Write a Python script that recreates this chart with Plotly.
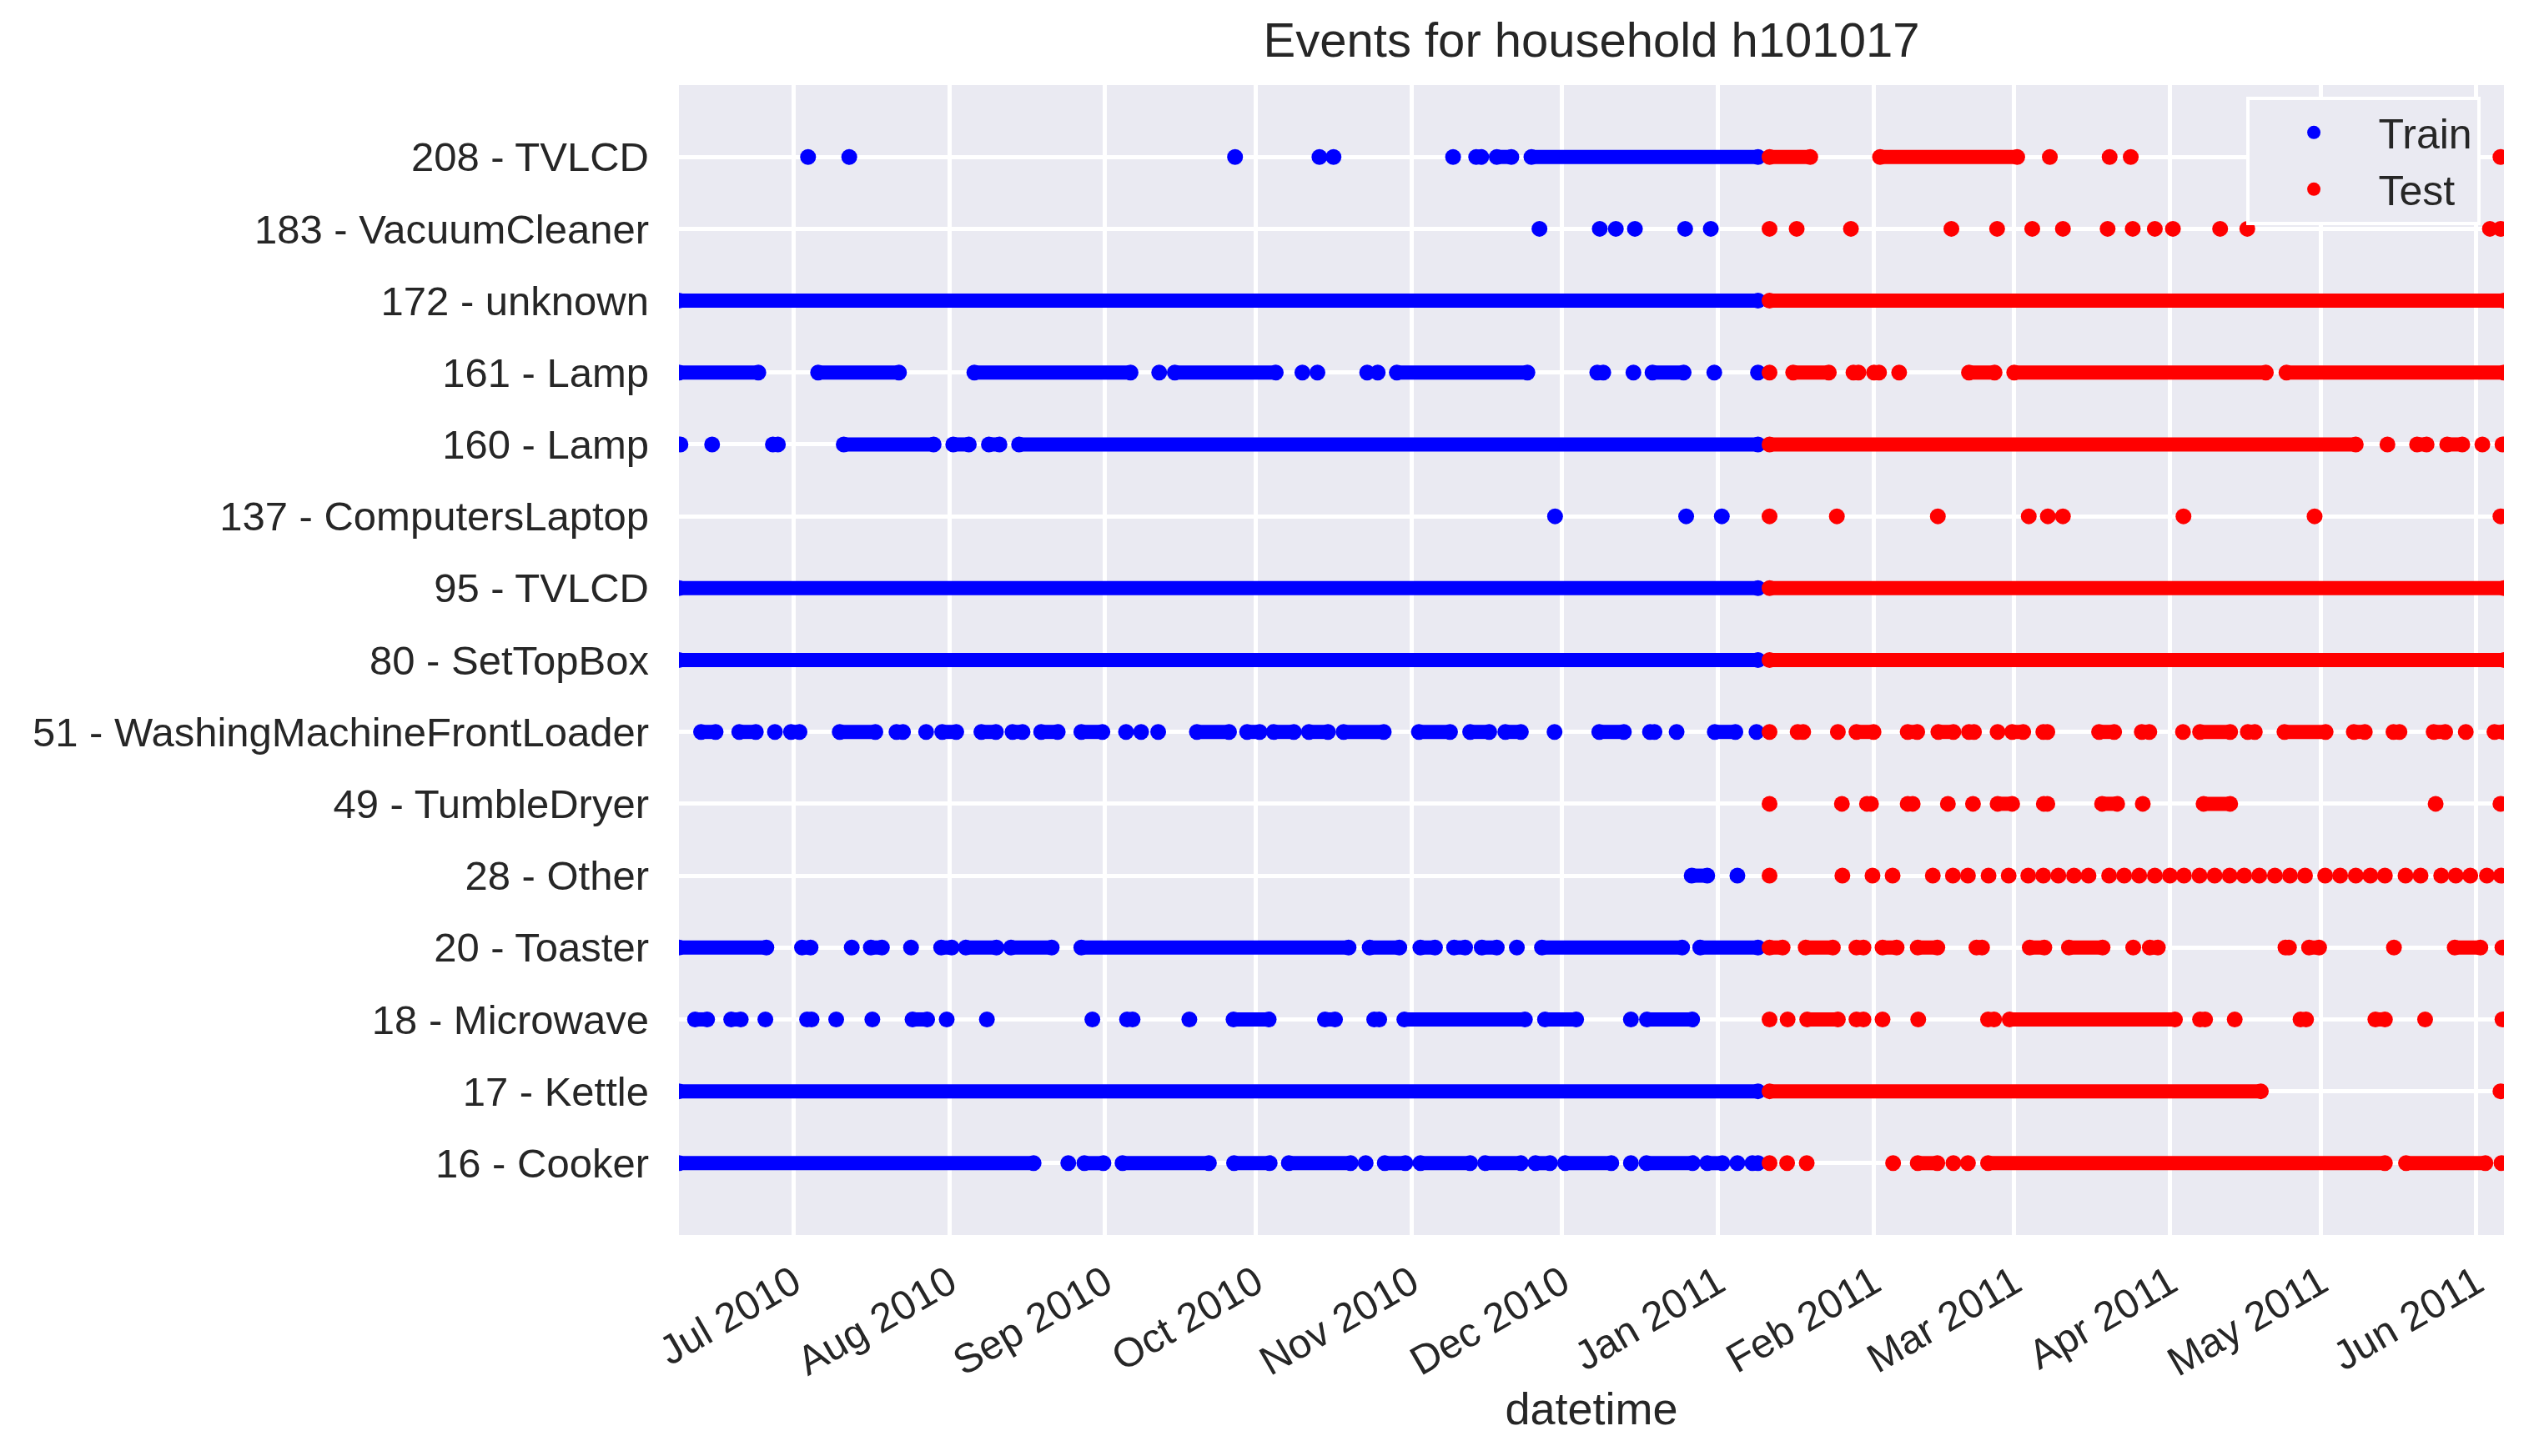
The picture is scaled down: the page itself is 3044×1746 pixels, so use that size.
import pandas as pd
import plotly.graph_objects as go

# event days counted from 2010-07-01; a [start, end] pair is a dense run of events
DAY0 = pd.Timestamp("2010-07-01")
TRAIN_END = 192.0   # last train event
TEST_START = 194.3  # first test event

tvlcd_208 = [2.9, 11.1, 87.9, 104.7, 107.5, 131.3, [135.9, 136.9], [140.0, 142.9],
             [146.9, 202.4], [216.3, 243.6], 250.1, 262.0, 266.2, 339.8]
vacuum_183 = [148.5, 160.5, 163.7, 167.5, 177.5, 182.6, 194.3, 199.7, 210.5, 230.5,
              239.6, 246.6, 252.7, 261.6, 266.6, 271.0, 274.6, 284.0, 289.4, 337.7, 339.8]
unknown_172 = [[-22.8, 340.5]]
lamp_161 = [[-22.8, -7.0], [4.9, 21.0], [36.0, 67.1], 72.8, [75.9, 96.0], 101.3, 104.3,
            114.2, 116.3, [120.1, 146.1], [160.0, 161.2], 167.2, [171.0, 177.2], 183.3,
            192.0, 194.3, [199.0, 206.1], [211.0, 212.0], [215.1, 216.1], 220.1,
            [234.0, 239.1], [243.0, 293.1], [297.2, 340.5]]
lamp_160 = [-22.5, -16.2, [-4.1, -3.1], [10.0, 27.9], [31.8, 34.9], [38.9, 41.0],
            [44.9, 311.0], 317.3, [323.2, 325.1], [329.2, 332.2], 336.2, 340.2]
laptop_137 = [151.6, 177.7, 184.8, 194.3, 207.7, 227.8, 245.9, 249.7, 252.7, 276.7,
              302.8, 339.8]
tvlcd_95 = [[-22.8, 340.5]]
settopbox_80 = [[-22.8, 340.5]]
washer_51 = [[-18.4, -15.5], [-10.8, -7.5], -3.7, [-0.5, 1.2], [9.2, 16.3], [20.5, 21.8],
             26.4, [29.6, 32.4], [37.4, 40.3], [43.6, 45.6], [49.3, 52.6], [57.3, 61.5],
             66.2, 69.2, 72.6, [80.3, 86.7], [90.3, 92.8], [95.6, 99.6], [102.6, 106.4],
             [109.5, 117.5], [124.5, 130.7], [134.7, 138.5], [141.7, 144.8], 151.5,
             [160.4, 165.3], [170.5, 171.4], 175.8, [183.4, 187.5], 191.7, 194.3,
             [199.9, 201.0], 207.9, [211.6, 215.0], [221.8, 223.7], [227.9, 230.9],
             [234.0, 235.0], 239.7, [242.6, 244.8], [248.8, 249.6], [259.9, 262.9],
             [268.4, 269.9], 276.6, [280.0, 286.0], [289.5, 290.9], [296.8, 305.0],
             [310.6, 312.8], [318.5, 319.7], [326.5, 328.8], 332.9, [338.6, 340.5]]
dryer_49 = [194.3, 208.7, [213.7, 214.5], [221.8, 222.8], 229.8, 234.8, [239.7, 242.6],
            [248.9, 249.6], [260.5, 263.5], 268.6, [280.7, 286.0], 326.9, 339.8]
other_28 = [[178.8, 181.9], 187.9, 194.3, 208.8, 214.8, 218.8, 226.8, 230.8, 233.8,
            237.9, 241.9, 245.8, 248.8, 251.8, 254.9, 257.8, 261.9, 264.9, 267.9, 271.0,
            274.0, 276.8, 279.9, 282.9, 285.9, 288.8, 291.8, 294.9, 297.9, 300.9, 304.9,
            307.9, 311.0, 313.9, 316.8, 320.9, 323.9, 328.0, 330.9, 333.8, 337.1, 339.9]
toaster_20 = [[-22.8, -5.4], [1.7, 3.4], 11.6, [15.4, 17.6], 23.4, [29.4, 31.5],
              [34.3, 40.4], [43.3, 51.4], [57.3, 110.5], [114.7, 120.6], [124.8, 127.7],
              [131.5, 133.7], [137.0, 140.0], 144.0, [149.0, 176.9], [180.5, 196.9],
              [201.5, 206.9], [211.6, 213.0], [216.8, 219.6], [223.8, 227.7],
              [235.5, 236.6], [246.1, 249.0], [253.9, 260.6], 266.7, [270.0, 271.6],
              [297.0, 297.7], [301.7, 303.7], 318.6, [330.7, 335.8], 340.2]
microwave_18 = [[-19.6, -17.2], [-12.4, -10.5], -5.6, [2.7, 3.6], 8.5, 15.7, [23.7, 26.6],
                30.5, 38.5, 59.5, [66.4, 67.5], 78.8, [87.6, 94.6], [105.8, 107.8],
                [115.6, 116.6], [121.6, 145.6], [149.6, 155.8], 166.7, [169.9, 178.9],
                194.3, 197.9, [201.8, 207.9], [211.6, 213.0], 216.8, 223.9, [237.8, 239.0],
                [242.1, 275.0], [280.0, 281.0], 286.9, [300.0, 301.1], [314.9, 316.8],
                324.8, 340.2]
kettle_17 = [[-22.8, 292.1], 339.8]
cooker_16 = [[-22.8, 47.8], 54.7, [57.9, 61.7], [65.5, 82.7], [87.7, 94.8], [98.6, 110.9],
             113.9, [117.7, 121.8], [124.8, 134.7], [137.7, 144.8], [147.7, 150.6],
             [153.6, 162.8], 166.7, [169.8, 179.0], [181.9, 184.9], 187.9, [190.9, 192.0],
             194.3, 197.8, 201.7, 218.9, [223.8, 227.7], 230.9, 233.8, [237.8, 316.8],
             [321.0, 336.8], 340.0]

appliances = ["16 - Cooker", "17 - Kettle", "18 - Microwave", "20 - Toaster", "28 - Other",
              "49 - TumbleDryer", "51 - WashingMachineFrontLoader", "80 - SetTopBox",
              "95 - TVLCD", "137 - ComputersLaptop", "160 - Lamp", "161 - Lamp",
              "172 - unknown", "183 - VacuumCleaner", "208 - TVLCD"]
rows = [cooker_16, kettle_17, microwave_18, toaster_20, other_28, dryer_49, washer_51,
        settopbox_80, tvlcd_95, laptop_137, lamp_160, lamp_161, unknown_172, vacuum_183,
        tvlcd_208]


def day(d):
    return (DAY0 + pd.Timedelta(days=d)).isoformat()


def pieces(part):
    xs, ys = [], []
    for name, evs in zip(appliances, rows):
        for ev in evs:
            a, b = ev if isinstance(ev, list) else (ev, ev)
            if part == "train":
                if a > TRAIN_END:
                    continue
                b = min(b, TRAIN_END)
            else:
                if b < TEST_START:
                    continue
                a = max(a, TEST_START)
            pts = [a] if a == b else [a, b]
            xs += [day(p) for p in pts] + [None]
            ys += [name] * len(pts) + [None]
    return xs, ys


fig = go.Figure()
for part, color in [("train", "#0000FF"), ("test", "#FF0000")]:
    xs, ys = pieces(part)
    fig.add_trace(go.Scatter(x=xs, y=ys, mode="lines+markers", showlegend=False,
                             line=dict(color=color, width=17),
                             marker=dict(color=color, size=19, line=dict(width=0))))
for name, color in [("Train", "#0000FF"), ("Test", "#FF0000")]:
    fig.add_trace(go.Scatter(x=[None], y=[None], mode="markers", name=name,
                             marker=dict(color=color, size=19)))

flat = [v for evs in rows for ev in evs for v in (ev if isinstance(ev, list) else [ev])]

fig.update_layout(
    template="none",
    width=3044, height=1746,
    margin=dict(l=806, r=50, t=94, b=273, autoexpand=False),
    paper_bgcolor="white", plot_bgcolor="#EAEAF2",
    font=dict(family="Liberation Sans, Arial, sans-serif", size=49, color="#262626"),
    title=dict(text="Events for household h101017", x=0.5, xref="paper", xanchor="center",
               y=1 - 40 / 1746, yref="container", yanchor="middle", font=dict(size=58)),
    legend=dict(x=0.987, y=0.99, xanchor="right", yanchor="top", bgcolor="#EAEAF2",
                bordercolor="white", borderwidth=4, itemwidth=145, font=dict(size=50)),
)
fig.update_xaxes(type="date", range=[day(min(flat)), day(max(flat))],
                 tick0="2010-07-01", dtick="M1", tickformat="%b %Y", tickangle=-30,
                 showgrid=True, gridcolor="white", gridwidth=4.5, zeroline=False,
                 showline=False, ticks="", ticklabelstandoff=18,
                 title=dict(text="datetime", font=dict(size=54), standoff=0))
fig.update_yaxes(type="category", categoryorder="array", categoryarray=appliances,
                 range=[-1, len(appliances)], showgrid=True, gridcolor="white",
                 gridwidth=4.5, zeroline=False, showline=False, ticks="",
                 ticklabelstandoff=35)

fig.write_html("out.html")
